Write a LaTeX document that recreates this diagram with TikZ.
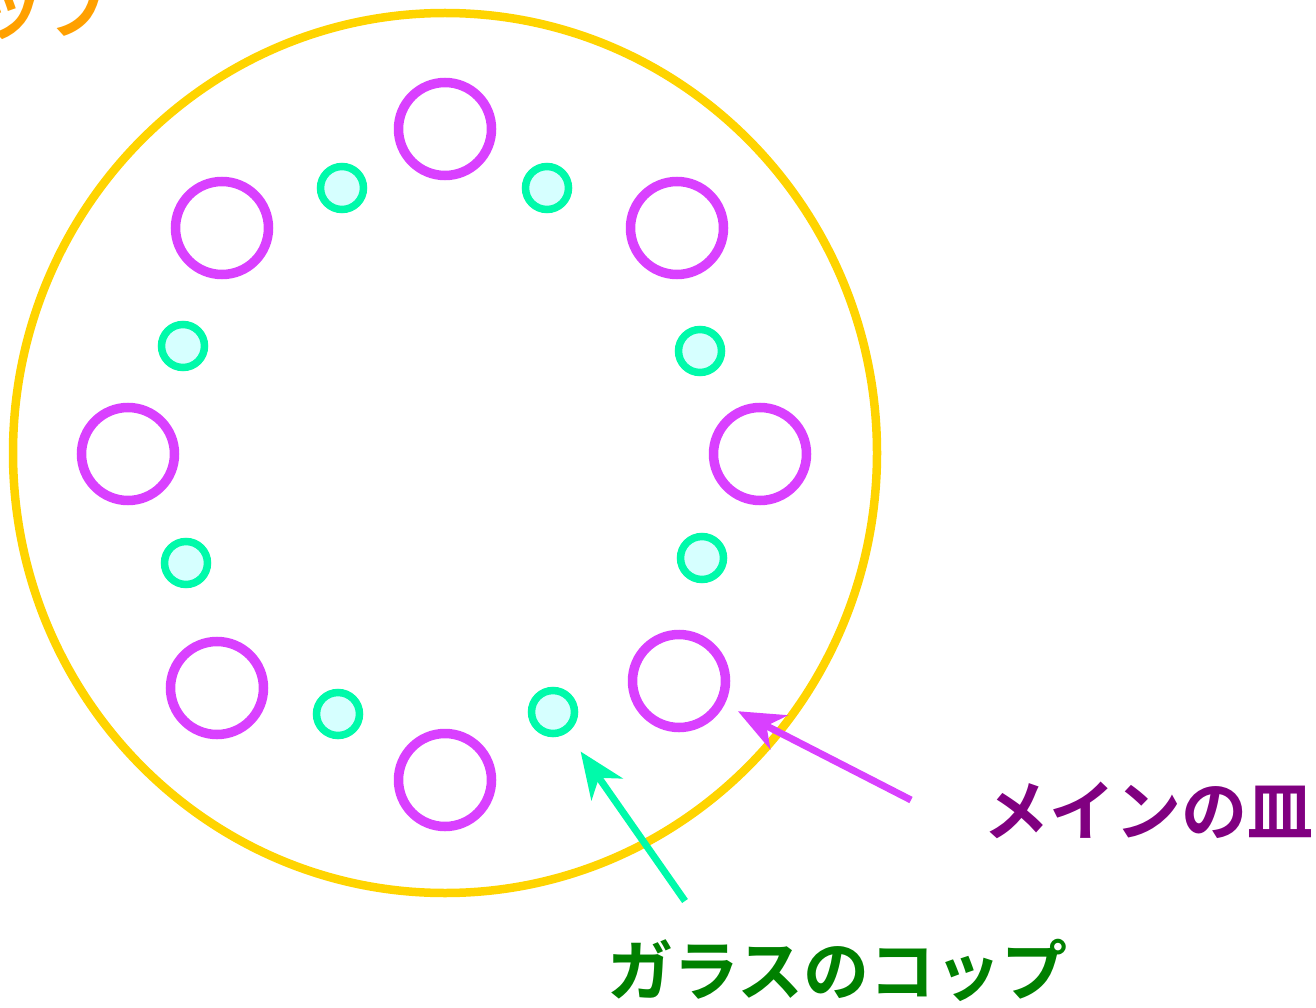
\documentclass[tikz,border=0pt]{standalone}
\usepackage{fontspec}
\usetikzlibrary{arrows.meta}
\newfontfamily\jpfont{Noto Sans CJK JP Bold}
\definecolor{tablecol}{HTML}{FFD400}
\definecolor{platecol}{HTML}{D940FF}
\definecolor{glasscol}{HTML}{00FAAA}
\definecolor{glassfill}{HTML}{D6FFFF}
\definecolor{staffcol}{HTML}{FFA000}
\definecolor{maincol}{HTML}{800080}
\definecolor{cupcol}{HTML}{008000}

\begin{document}
\begin{tikzpicture}[
  x=1pt, y=-1pt,
  every node/.style={font=\jpfont\fontsize{66}{70}\selectfont},
  plate/.style={draw=platecol, circle, line width=9.5pt, minimum size=93pt, inner sep=0pt},
  glass/.style={draw=glasscol, fill=glassfill, circle, line width=7.5pt, minimum size=43pt, inner sep=0pt},
  arrow/.style={-{Stealth[length=46pt, width=38pt, inset=14pt]}, line width=7pt},
]
  \clip (0,0) rectangle (1316,1008);

  % Table
  \draw[tablecol, line width=8.5pt] (445,453) ellipse [x radius=432, y radius=440];

  % Plates
  \node[plate] (p1) at (445,129) {};
  \node[plate] (p2) at (677,228) {};
  \node[plate] (p3) at (760,454) {};
  \node[plate] (p4) at (679,681) {};
  \node[plate] (p5) at (445,780) {};
  \node[plate] (p6) at (217,688) {};
  \node[plate] (p7) at (128,454) {};
  \node[plate] (p8) at (222,228) {};

  % Glasses
  \node[glass] (g1) at (547,188) {};
  \node[glass] (g2) at (700,351) {};
  \node[glass] (g3) at (702,558) {};
  \node[glass] (g4) at (553,712) {};
  \node[glass] (g5) at (338,714) {};
  \node[glass] (g6) at (186,563) {};
  \node[glass] (g7) at (183,346) {};
  \node[glass] (g8) at (342,188) {};

  % Labels
  \node[text=staffcol, anchor=east, inner sep=0pt] (staff) at (110,9) {スタッフ};
  \node[text=maincol, anchor=west, inner sep=0pt] (mainlbl) at (983,810) {メインの皿};
  \node[text=cupcol, anchor=west, inner sep=0pt] (glasslbl) at (607,970) {ガラスのコップ};

  % Arrows
  \coordinate (maintail) at (911,800);
  \coordinate (glasstail) at (685,901);
  \draw[arrow, platecol, shorten >=15pt] (maintail) -- (p4);
  \draw[arrow, glasscol, shorten >=23pt] (glasstail) -- (g4);

\end{tikzpicture}
\end{document}
